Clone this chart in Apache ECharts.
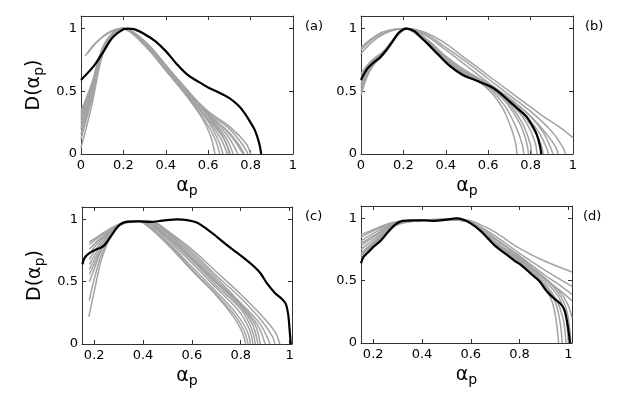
<!DOCTYPE html>
<html>
<head>
<meta charset="utf-8">
<script src="https://cdn.jsdelivr.net/npm/echarts@6/dist/echarts.min.js"></script>
<style>
  html, body { margin: 0; padding: 0; background: #fff; }
  #chart { width: 632px; height: 397px; }
</style>
</head>
<body>
<div id="chart"></div>
<script>
// tick values
const xTicksFull = [0, 0.2, 0.4, 0.6, 0.8, 1];
const xTicksCut = [0.2, 0.4, 0.6, 0.8, 1];
const yTicks = [0, 0.5, 1];

// panel (a)
const blackA = [[0,0.59],[0.06,0.7],[0.1,0.8],[0.15,0.93],[0.2,0.995],[0.22,1.0],[0.25,0.995],[0.3,0.955],[0.35,0.9],[0.4,0.82],[0.45,0.72],[0.5,0.635],[0.55,0.58],[0.6,0.53],[0.65,0.49],[0.7,0.445],[0.74,0.39],[0.77,0.33],[0.8,0.25],[0.82,0.19],[0.84,0.09],[0.85,0]];
const grayA = [
  [[0,0.05],[0.05,0.38],[0.1,0.78],[0.15,0.95],[0.2,1],[0.3,0.88],[0.4,0.68],[0.5,0.46],[0.57,0.29],[0.61,0.15],[0.632,0]],
  [[0,0.12],[0.05,0.43],[0.1,0.8],[0.15,0.955],[0.2,1],[0.3,0.87],[0.4,0.67],[0.5,0.46],[0.58,0.28],[0.63,0.13],[0.655,0]],
  [[0,0.2],[0.05,0.47],[0.1,0.81],[0.15,0.96],[0.2,1],[0.3,0.875],[0.4,0.675],[0.5,0.47],[0.6,0.26],[0.65,0.1],[0.67,0]],
  [[0,0.25],[0.05,0.5],[0.1,0.82],[0.15,0.96],[0.19,1],[0.3,0.87],[0.4,0.67],[0.5,0.47],[0.6,0.27],[0.66,0.12],[0.69,0]],
  [[0,0.3],[0.05,0.53],[0.1,0.83],[0.15,0.965],[0.19,1],[0.3,0.865],[0.4,0.665],[0.5,0.465],[0.6,0.28],[0.67,0.13],[0.705,0]],
  [[0,0.34],[0.05,0.56],[0.1,0.84],[0.15,0.965],[0.2,1],[0.3,0.87],[0.4,0.67],[0.5,0.48],[0.6,0.3],[0.68,0.14],[0.718,0]],
  [[0,0.28],[0.05,0.52],[0.1,0.83],[0.15,0.96],[0.2,1],[0.3,0.88],[0.4,0.685],[0.5,0.49],[0.6,0.31],[0.69,0.15],[0.74,0]],
  [[0,0.16],[0.05,0.45],[0.1,0.81],[0.15,0.955],[0.2,1],[0.3,0.875],[0.4,0.68],[0.5,0.485],[0.6,0.32],[0.7,0.16],[0.765,0]],
  [[0,0.22],[0.05,0.48],[0.1,0.82],[0.15,0.96],[0.2,1],[0.3,0.88],[0.4,0.69],[0.5,0.5],[0.6,0.33],[0.7,0.2],[0.76,0.08],[0.788,0]],
  [[0,0.32],[0.05,0.55],[0.1,0.84],[0.15,0.965],[0.2,1],[0.3,0.885],[0.4,0.695],[0.5,0.505],[0.6,0.34],[0.7,0.22],[0.78,0.08],[0.8,0]],
  [[0.02,0.78],[0.06,0.87],[0.1,0.93],[0.15,0.98],[0.2,1],[0.3,0.9],[0.4,0.71],[0.5,0.5],[0.6,0.3],[0.67,0.14],[0.7,0]],
  [[0.03,0.8],[0.08,0.9],[0.13,0.97],[0.19,1],[0.3,0.895],[0.4,0.705],[0.5,0.515],[0.6,0.32],[0.7,0.17],[0.75,0.06],[0.77,0]]
];

// panel (b)
const blackB = [[0,0.59],[0.03,0.68],[0.06,0.73],[0.09,0.77],[0.12,0.83],[0.15,0.9],[0.18,0.97],[0.215,1],[0.25,0.98],[0.28,0.935],[0.32,0.87],[0.36,0.8],[0.42,0.7],[0.48,0.63],[0.53,0.595],[0.58,0.56],[0.62,0.53],[0.66,0.48],[0.7,0.42],[0.74,0.36],[0.78,0.3],[0.81,0.22],[0.83,0.15],[0.845,0.06],[0.85,0]];
const grayB = [
  [[0,0.47],[0.03,0.62],[0.06,0.71],[0.1,0.78],[0.14,0.88],[0.18,0.97],[0.21,1],[0.28,0.93],[0.36,0.8],[0.44,0.68],[0.5,0.62],[0.56,0.57],[0.62,0.48],[0.67,0.36],[0.71,0.2],[0.73,0.08],[0.736,0]],
  [[0,0.53],[0.03,0.66],[0.06,0.74],[0.1,0.79],[0.14,0.88],[0.18,0.97],[0.21,1],[0.28,0.935],[0.36,0.8],[0.44,0.69],[0.5,0.63],[0.56,0.58],[0.62,0.5],[0.68,0.38],[0.73,0.22],[0.76,0.08],[0.768,0]],
  [[0,0.6],[0.03,0.69],[0.06,0.75],[0.1,0.8],[0.14,0.87],[0.18,0.965],[0.21,1],[0.28,0.94],[0.36,0.81],[0.44,0.7],[0.5,0.64],[0.56,0.585],[0.63,0.5],[0.69,0.4],[0.75,0.24],[0.78,0.1],[0.79,0]],
  [[0,0.64],[0.03,0.71],[0.06,0.76],[0.1,0.81],[0.14,0.88],[0.18,0.97],[0.21,1],[0.28,0.93],[0.36,0.8],[0.44,0.69],[0.5,0.63],[0.56,0.58],[0.63,0.51],[0.7,0.4],[0.76,0.25],[0.795,0.1],[0.805,0]],
  [[0,0.56],[0.04,0.7],[0.08,0.76],[0.12,0.82],[0.16,0.92],[0.2,0.99],[0.22,1],[0.28,0.94],[0.36,0.81],[0.44,0.7],[0.5,0.64],[0.56,0.59],[0.64,0.5],[0.72,0.38],[0.78,0.25],[0.82,0.1],[0.83,0]],
  [[0,0.5],[0.04,0.67],[0.08,0.75],[0.12,0.82],[0.16,0.92],[0.2,0.99],[0.22,1],[0.3,0.92],[0.38,0.79],[0.46,0.68],[0.52,0.62],[0.6,0.54],[0.68,0.45],[0.76,0.32],[0.82,0.18],[0.85,0.07],[0.86,0]],
  [[0,0.62],[0.04,0.72],[0.08,0.77],[0.12,0.83],[0.16,0.92],[0.2,0.99],[0.22,1],[0.3,0.925],[0.38,0.8],[0.46,0.69],[0.54,0.61],[0.62,0.53],[0.7,0.43],[0.78,0.3],[0.84,0.17],[0.875,0.05],[0.885,0]],
  [[0,0.58],[0.05,0.72],[0.1,0.8],[0.15,0.91],[0.2,0.99],[0.22,1],[0.3,0.93],[0.4,0.78],[0.48,0.68],[0.56,0.6],[0.64,0.52],[0.72,0.42],[0.8,0.3],[0.86,0.17],[0.895,0.05],[0.905,0]],
  [[0,0.8],[0.05,0.89],[0.1,0.95],[0.15,0.985],[0.21,1],[0.3,0.95],[0.4,0.83],[0.5,0.7],[0.6,0.57],[0.7,0.44],[0.8,0.3],[0.88,0.15],[0.92,0.05],[0.93,0]],
  [[0,0.83],[0.05,0.91],[0.1,0.96],[0.15,0.99],[0.21,1],[0.3,0.96],[0.4,0.85],[0.5,0.73],[0.6,0.6],[0.7,0.47],[0.8,0.34],[0.9,0.18],[0.95,0.06],[0.965,0]],
  [[0,0.85],[0.05,0.92],[0.1,0.97],[0.16,0.995],[0.22,1],[0.3,0.97],[0.4,0.88],[0.47,0.79],[0.55,0.69],[0.62,0.6],[0.7,0.5],[0.78,0.4],[0.86,0.3],[0.94,0.21],[1,0.13]]
];

// panel (c)
const blackC = [[0.152,0.64],[0.16,0.69],[0.18,0.73],[0.21,0.76],[0.24,0.79],[0.27,0.87],[0.3,0.95],[0.33,0.98],[0.38,0.985],[0.43,0.98],[0.48,0.99],[0.54,1.0],[0.58,0.995],[0.62,0.975],[0.66,0.925],[0.7,0.865],[0.74,0.8],[0.78,0.74],[0.82,0.68],[0.85,0.63],[0.88,0.57],[0.91,0.48],[0.94,0.41],[0.97,0.36],[0.985,0.32],[0.995,0.23],[1.0,0.12],[1.005,0]];
const grayC = [
  [[0.178,0.22],[0.2,0.42],[0.23,0.68],[0.27,0.87],[0.31,0.96],[0.36,0.99],[0.4,0.975],[0.5,0.8],[0.6,0.59],[0.7,0.39],[0.77,0.22],[0.805,0.1],[0.82,0]],
  [[0.18,0.35],[0.2,0.52],[0.23,0.72],[0.27,0.88],[0.31,0.965],[0.36,0.99],[0.4,0.975],[0.5,0.81],[0.6,0.6],[0.7,0.4],[0.78,0.22],[0.815,0.1],[0.83,0]],
  [[0.18,0.5],[0.2,0.6],[0.23,0.76],[0.27,0.89],[0.31,0.965],[0.36,0.99],[0.4,0.98],[0.5,0.82],[0.6,0.62],[0.7,0.42],[0.78,0.25],[0.825,0.11],[0.84,0]],
  [[0.18,0.56],[0.21,0.68],[0.24,0.8],[0.28,0.91],[0.32,0.97],[0.37,0.99],[0.41,0.98],[0.5,0.84],[0.6,0.65],[0.7,0.45],[0.79,0.27],[0.835,0.12],[0.85,0]],
  [[0.18,0.6],[0.21,0.71],[0.24,0.81],[0.28,0.92],[0.32,0.97],[0.37,0.99],[0.41,0.98],[0.5,0.855],[0.6,0.67],[0.7,0.47],[0.8,0.28],[0.845,0.12],[0.86,0]],
  [[0.18,0.64],[0.21,0.74],[0.24,0.83],[0.28,0.93],[0.32,0.975],[0.37,0.99],[0.42,0.98],[0.5,0.86],[0.6,0.68],[0.7,0.49],[0.8,0.3],[0.85,0.15],[0.87,0]],
  [[0.18,0.68],[0.21,0.77],[0.24,0.85],[0.28,0.93],[0.32,0.975],[0.37,0.99],[0.42,0.98],[0.5,0.865],[0.6,0.69],[0.7,0.5],[0.8,0.31],[0.86,0.15],[0.88,0]],
  [[0.18,0.72],[0.21,0.8],[0.25,0.88],[0.29,0.94],[0.33,0.98],[0.38,0.99],[0.43,0.975],[0.5,0.88],[0.6,0.7],[0.7,0.51],[0.8,0.32],[0.87,0.15],[0.9,0]],
  [[0.18,0.76],[0.22,0.84],[0.26,0.9],[0.3,0.95],[0.34,0.98],[0.39,0.99],[0.44,0.97],[0.5,0.89],[0.6,0.72],[0.7,0.53],[0.8,0.33],[0.88,0.16],[0.92,0]],
  [[0.18,0.8],[0.22,0.86],[0.26,0.91],[0.3,0.955],[0.35,0.98],[0.4,0.99],[0.45,0.97],[0.5,0.9],[0.6,0.74],[0.7,0.55],[0.8,0.37],[0.88,0.2],[0.93,0.06],[0.94,0]],
  [[0.18,0.82],[0.22,0.87],[0.26,0.92],[0.3,0.96],[0.35,0.985],[0.4,0.99],[0.45,0.975],[0.5,0.91],[0.6,0.76],[0.7,0.58],[0.8,0.4],[0.88,0.24],[0.94,0.1],[0.96,0]]
];

// panel (d)
const blackD = [[0.15,0.64],[0.16,0.69],[0.175,0.72],[0.2,0.77],[0.23,0.82],[0.26,0.89],[0.29,0.95],[0.32,0.98],[0.36,0.985],[0.41,0.985],[0.45,0.98],[0.5,0.99],[0.54,1.0],[0.57,0.99],[0.6,0.96],[0.64,0.9],[0.67,0.84],[0.7,0.78],[0.74,0.72],[0.78,0.66],[0.81,0.62],[0.85,0.55],[0.88,0.5],[0.91,0.42],[0.94,0.36],[0.97,0.31],[0.985,0.26],[0.995,0.17],[1.002,0.08],[1.007,0]];
const grayD = [
  [[0.15,0.87],[0.2,0.91],[0.25,0.95],[0.3,0.975],[0.4,0.985],[0.5,0.995],[0.58,0.99],[0.65,0.94],[0.7,0.89],[0.8,0.76],[0.9,0.66],[1.015,0.57]],
  [[0.15,0.85],[0.2,0.9],[0.25,0.94],[0.3,0.97],[0.4,0.985],[0.5,0.995],[0.58,0.985],[0.65,0.92],[0.7,0.86],[0.8,0.72],[0.9,0.59],[1.015,0.455]],
  [[0.15,0.82],[0.2,0.88],[0.25,0.93],[0.3,0.97],[0.4,0.985],[0.5,0.99],[0.58,0.98],[0.65,0.91],[0.7,0.84],[0.8,0.7],[0.9,0.55],[0.96,0.47],[1.015,0.39]],
  [[0.15,0.8],[0.2,0.86],[0.25,0.92],[0.3,0.965],[0.4,0.985],[0.5,0.99],[0.58,0.98],[0.65,0.9],[0.7,0.83],[0.8,0.69],[0.9,0.52],[0.96,0.43],[1.015,0.34]],
  [[0.15,0.78],[0.2,0.85],[0.25,0.91],[0.3,0.96],[0.4,0.985],[0.5,0.99],[0.58,0.98],[0.65,0.89],[0.7,0.8],[0.8,0.64],[0.88,0.5],[0.93,0.35],[0.95,0.18],[0.96,0]],
  [[0.15,0.75],[0.2,0.83],[0.25,0.9],[0.3,0.96],[0.4,0.985],[0.5,0.99],[0.58,0.98],[0.65,0.89],[0.7,0.8],[0.8,0.65],[0.88,0.51],[0.94,0.36],[0.965,0.18],[0.975,0]],
  [[0.15,0.72],[0.2,0.81],[0.25,0.89],[0.3,0.955],[0.4,0.985],[0.5,0.99],[0.58,0.98],[0.65,0.885],[0.7,0.8],[0.8,0.65],[0.9,0.48],[0.95,0.35],[0.98,0.18],[0.99,0]],
  [[0.15,0.7],[0.2,0.79],[0.25,0.88],[0.3,0.955],[0.4,0.985],[0.5,0.99],[0.58,0.98],[0.65,0.885],[0.7,0.8],[0.8,0.66],[0.9,0.5],[0.96,0.37],[0.99,0.2],[1.0,0]],
  [[0.15,0.68],[0.2,0.78],[0.25,0.87],[0.3,0.95],[0.4,0.985],[0.5,0.99],[0.58,0.98],[0.65,0.89],[0.7,0.81],[0.8,0.67],[0.9,0.52],[0.96,0.4],[0.995,0.25],[1.01,0]],
  [[0.15,0.7],[0.2,0.8],[0.25,0.88],[0.3,0.955],[0.4,0.985],[0.5,0.99],[0.58,0.98],[0.65,0.89],[0.7,0.81],[0.8,0.68],[0.9,0.53],[0.97,0.4],[1.0,0.3],[1.015,0.2]]
];

const panels = [
  {grid: {left: 81, top: 16, width: 212, height: 138}, xMin: 0, xMax: 1, xTicks: xTicksFull, gray: grayA, black: blackA, tag: '(a)', tagPos: [305, 20], yName: true},
  {grid: {left: 361, top: 16, width: 212, height: 138}, xMin: 0, xMax: 1, xTicks: xTicksFull, gray: grayB, black: blackB, tag: '(b)', tagPos: [585, 20], yName: false},
  {grid: {left: 82, top: 207, width: 210, height: 137}, xMin: 0.15, xMax: 1.01, xTicks: xTicksCut, gray: grayC, black: blackC, tag: '(c)', tagPos: [305, 210], yName: true},
  {grid: {left: 361, top: 206, width: 211, height: 137}, xMin: 0.15, xMax: 1.015, xTicks: xTicksCut, gray: grayD, black: blackD, tag: '(d)', tagPos: [583, 210], yName: false}
];

const font = 'DejaVu Sans';
const boxLine = {show: true, onZero: false, lineStyle: {color: '#333', width: 1}};
const tick = values => ({show: true, inside: true, length: 4, customValues: values, lineStyle: {color: '#333'}});
const subRich = {
  a: {fontFamily: font, fontSize: 19, lineHeight: 24, color: '#000'},
  s: {fontFamily: font, fontSize: 14, lineHeight: 12, verticalAlign: 'bottom', color: '#000'}
};

const option = {
  animation: false,
  backgroundColor: '#fff',
  grid: [], xAxis: [], yAxis: [], series: [], graphic: []
};

panels.forEach((p, i) => {
  option.grid.push(p.grid);
  // bottom axis with labels and name
  option.xAxis.push({
    gridIndex: i, type: 'value', position: 'bottom', min: p.xMin, max: p.xMax,
    axisLine: boxLine, axisTick: tick(p.xTicks), splitLine: {show: false},
    axisLabel: {customValues: p.xTicks, color: '#000', fontFamily: font, fontSize: 13, margin: 5},
    name: '{a|α}{s|p}', nameLocation: 'middle', nameGap: 20,
    nameTextStyle: {rich: subRich}
  });
  // top mirror
  option.xAxis.push({
    gridIndex: i, type: 'value', position: 'top', min: p.xMin, max: p.xMax,
    axisLine: boxLine, axisTick: tick(p.xTicks), axisLabel: {show: false}, splitLine: {show: false}
  });
  const yLeft = {
    gridIndex: i, type: 'value', position: 'left', min: 0, max: 1.1,
    axisLine: boxLine, axisTick: tick(yTicks), splitLine: {show: false},
    axisLabel: {customValues: yTicks, color: '#000', fontFamily: font, fontSize: 13, margin: 4}
  };
  if (p.yName) {
    yLeft.name = '{a|D(α}{s|p}{a|)}';
    yLeft.nameLocation = 'middle';
    yLeft.nameGap = 35;
    yLeft.nameTextStyle = {rich: subRich};
  }
  option.yAxis.push(yLeft);
  option.yAxis.push({
    gridIndex: i, type: 'value', position: 'right', min: 0, max: 1.1,
    axisLine: boxLine, axisTick: tick(yTicks), axisLabel: {show: false}, splitLine: {show: false}
  });

  p.gray.forEach(curve => {
    option.series.push({
      type: 'line', xAxisIndex: 2 * i, yAxisIndex: 2 * i, data: curve,
      smooth: 0.35, showSymbol: false, silent: true,
      lineStyle: {color: '#a3a3a3', width: 1.5}
    });
  });
  option.series.push({
    type: 'line', xAxisIndex: 2 * i, yAxisIndex: 2 * i, data: p.black,
    smooth: 0.35, showSymbol: false, silent: true, z: 5,
    lineStyle: {color: '#000', width: 2.2}
  });

  option.graphic.push({
    type: 'text', left: p.tagPos[0], top: p.tagPos[1],
    style: {text: p.tag, font: '13px "DejaVu Sans"', fill: '#000'}
  });
});

const chart = echarts.init(document.getElementById('chart'));
chart.setOption(option);
</script>
</body>
</html>
